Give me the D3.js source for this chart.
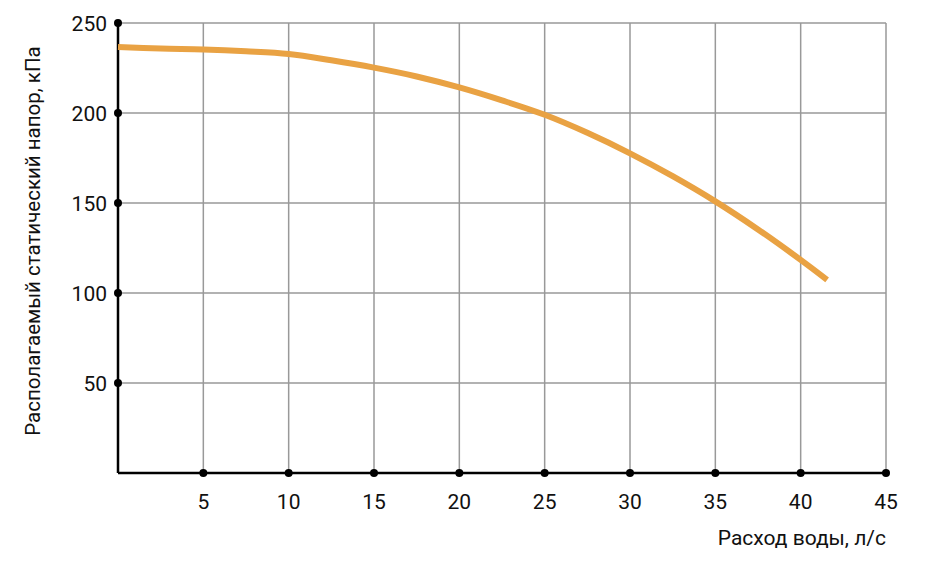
<!DOCTYPE html>
<html>
<head>
  <meta charset='utf-8'>
  <title>Pump curve</title>
  <style type='text/css'>
body{
  margin:0;
  background:#fff;
}
text{
  font-family: Roboto, 'Liberation Sans', sans-serif;
  fill:#111;
}
  </style>
</head>
<body>
<div id='chartContainer'></div>

<script src='https://d3js.org/d3.v7.min.js'></script>
<script type='text/javascript'>

  // flow, l/s
  var flow = [0, 2.5, 5, 7.5, 10, 12.5, 15, 17.5, 20, 22.5, 25, 27.5, 30, 32.5, 35, 37.5, 40, 41.55];
  // available static head, kPa
  var head = [236.7, 235.8, 235.3, 234.3, 232.8, 229.3, 225.2, 220.3, 214.2, 207.0, 199.0, 189.0, 177.6, 164.9, 150.9, 135.3, 118.4, 107.3];

  var xTicks = [5, 10, 15, 20, 25, 30, 35, 40, 45];
  var yTicks = [50, 100, 150, 200, 250];

  var xTitle = 'Расход воды, л/с';
  var yTitle = 'Располагаемый статический напор, кПа';

  var width = 946, height = 568;
  var svg = d3.select('#chartContainer').append('svg')
      .attr('width', width)
      .attr('height', height);

  var x = d3.scaleLinear().domain([0, 45]).range([118, 886]);
  var y = d3.scaleLinear().domain([0, 250]).range([473, 23]);

  // grid
  svg.selectAll('.vgrid')
    .data(xTicks)
    .enter().append('line')
      .attr('x1', function(d){ return x(d); })
      .attr('x2', function(d){ return x(d); })
      .attr('y1', y(250))
      .attr('y2', y(0))
      .style('stroke', '#999')
      .style('stroke-width', 1.5);

  svg.selectAll('.hgrid')
    .data(yTicks)
    .enter().append('line')
      .attr('x1', x(0))
      .attr('x2', x(45))
      .attr('y1', function(d){ return y(d); })
      .attr('y2', function(d){ return y(d); })
      .style('stroke', '#999')
      .style('stroke-width', 1.5);

  // axes lines
  svg.append('line')
    .attr('x1', x(0)).attr('x2', x(0))
    .attr('y1', y(250)).attr('y2', y(0))
    .style('stroke', '#000').style('stroke-width', 2.5);

  svg.append('line')
    .attr('x1', x(0)).attr('x2', x(45))
    .attr('y1', y(0)).attr('y2', y(0))
    .style('stroke', '#000').style('stroke-width', 2.5);

  // curve
  var pts = flow.map(function(f, i){ return [f, head[i]]; });
  var line = d3.line()
      .x(function(d){ return x(d[0]); })
      .y(function(d){ return y(d[1]); })
      .curve(d3.curveCatmullRom.alpha(0.5));

  svg.append('path')
    .datum(pts)
    .attr('d', line)
    .style('fill', 'none')
    .style('stroke', '#E9A243')
    .style('stroke-width', 6);

  // tick dots
  svg.selectAll('.xdot')
    .data(xTicks)
    .enter().append('circle')
      .attr('cx', function(d){ return x(d); })
      .attr('cy', y(0))
      .attr('r', 4)
      .style('fill', '#000');

  svg.selectAll('.ydot')
    .data(yTicks)
    .enter().append('circle')
      .attr('cx', x(0))
      .attr('cy', function(d){ return y(d); })
      .attr('r', 4)
      .style('fill', '#000');

  // tick labels
  svg.selectAll('.xlab')
    .data(xTicks)
    .enter().append('text')
      .attr('x', function(d){ return x(d); })
      .attr('y', 509)
      .style('text-anchor', 'middle')
      .style('font-size', '21px')
      .text(function(d){ return d; });

  svg.selectAll('.ylab')
    .data(yTicks)
    .enter().append('text')
      .attr('x', 107)
      .attr('y', function(d){ return y(d) + 7.5; })
      .style('text-anchor', 'end')
      .style('font-size', '21px')
      .text(function(d){ return d; });

  // titles
  svg.append('text')
    .attr('x', 886)
    .attr('y', 545)
    .style('text-anchor', 'end')
    .style('font-size', '21px')
    .text(xTitle);

  svg.append('text')
    .attr('transform', 'translate(40,241) rotate(-90)')
    .style('text-anchor', 'middle')
    .style('font-size', '20.5px')
    .text(yTitle);

</script>
</body>
</html>
